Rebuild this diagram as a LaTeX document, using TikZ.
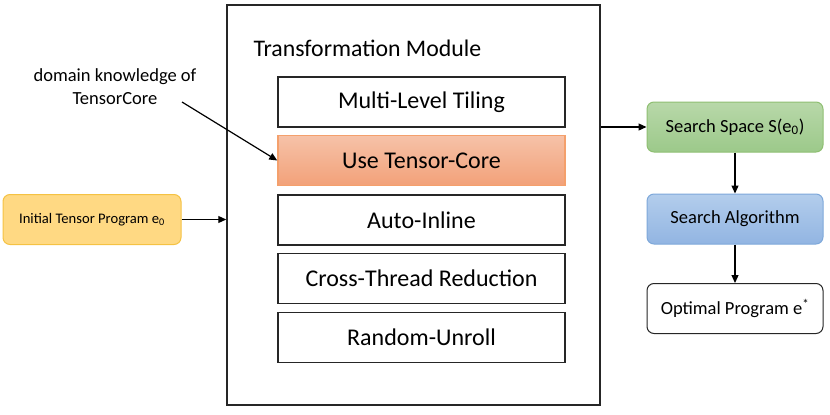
\documentclass[tikz,border=0pt]{standalone}
\usepackage{fontspec}
\setmainfont{Carlito}
\usetikzlibrary{arrows.meta}
\definecolor{boxline}{HTML}{262626}
\definecolor{orangetop}{HTML}{F6C2A8}
\definecolor{orangebot}{HTML}{F2A179}
\definecolor{orangeline}{HTML}{F4A06C}
\definecolor{greentop}{HTML}{B8D8A9}
\definecolor{greenbot}{HTML}{9CC98A}
\definecolor{greenline}{HTML}{8FBF72}
\definecolor{bluetop}{HTML}{B3CDEC}
\definecolor{bluebot}{HTML}{92B5E2}
\definecolor{blueline}{HTML}{7EA8DA}
\definecolor{yellowfill}{HTML}{FFD983}
\definecolor{yellowline}{HTML}{F5C243}
\tikzset{
  passbox/.style={draw=boxline, line width=1.5pt, fill=white, minimum width=287pt,
    minimum height=50pt, font=\fontsize{24}{27}\selectfont},
  flowbox/.style={rounded corners=7pt, line width=1pt, minimum width=176pt,
    minimum height=50pt, font=\fontsize{18.5}{22}\selectfont},
  arr/.style={-{Triangle[length=8pt,width=7pt]}, line width=1.2pt, black}
}
\begin{document}
\begin{tikzpicture}[x=1pt,y=-1pt]
\useasboundingbox (0,0) rectangle (830,415);
% transformation module
\node[draw=boxline, line width=1.5pt, minimum width=373pt, minimum height=400pt] (tm) at (413.5,205) {};
\node[anchor=west, font=\fontsize{23.8}{27}\selectfont] (title) at (250,48) {Transformation Module};
\node[passbox] (tiling) at (421.5,102) {Multi-Level Tiling};
\node[passbox, draw=orangeline, top color=orangetop, bottom color=orangebot] (tcore) at (421.5,160.5) {Use Tensor-Core};
\node[passbox] (inline) at (421.5,220) {Auto-Inline};
\node[passbox] (reduce) at (421.5,278.5) {Cross-Thread Reduction};
\node[passbox] (unroll) at (421.5,337.5) {Random-Unroll};
% input and annotation
\node[flowbox, draw=yellowline, fill=yellowfill, minimum width=178pt, font=\fontsize{14.6}{18}\selectfont] (init) at (92,219.5) {Initial Tensor Program e\textsubscript{0}};
\node[align=center, font=\fontsize{18.5}{23}\selectfont] (domain) at (115,87) {domain knowledge of\\TensorCore};
\coordinate (annot) at (182,102);
% search side
\node[flowbox, draw=greenline, top color=greentop, bottom color=greenbot] (space) at (735,127) {Search Space S(e\textsubscript{0})};
\node[flowbox, draw=blueline, top color=bluetop, bottom color=bluebot] (algo) at (735,219) {Search Algorithm};
\node[flowbox, draw=boxline, fill=white] (optimal) at (735,308.5) {Optimal Program e\textsuperscript{*}};
% connectors
\draw[arr] (init.east) -- (tm.west |- init.east);
\draw[arr] (annot) -- (tcore.west);
\draw[arr] (tm.east |- space.west) -- (space.west);
\draw[arr] (space) -- (algo);
\draw[arr] (algo) -- (optimal);
\end{tikzpicture}
\end{document}
